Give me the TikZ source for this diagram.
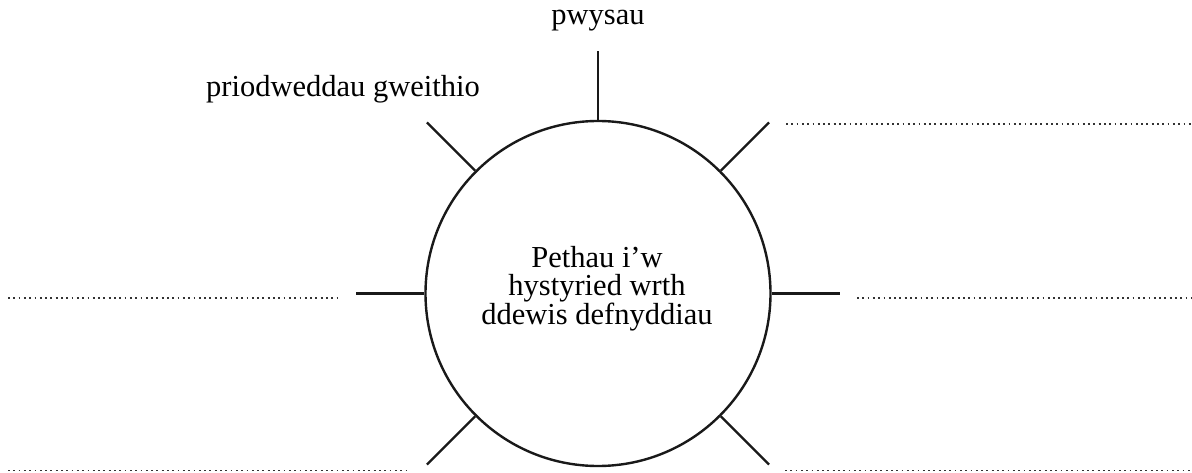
\documentclass[tikz,border=0pt]{standalone}
\usepackage{fontspec}
\setmainfont{Liberation Serif}
\usetikzlibrary{calc}
\begin{document}
\begin{tikzpicture}[x=1pt,y=1pt,
  spoke/.style={line width=2.4pt, draw=black!90},
  blank/.style={line width=1.8pt, draw=black!80, dash pattern=on 1.8pt off 3.5pt},
  lbl/.style={font=\fontsize{30.5}{28}\selectfont, inner sep=0pt}]
\useasboundingbox (0,0) rectangle (1192,472);
\node[circle, draw=black!90, line width=2.4pt, minimum size=345pt, inner sep=0pt] (c) at (598,178.5) {};
\node[lbl, align=center] (ct) at (597,183) {Pethau i’w\\hystyried wrth\\ddewis defnyddiau};
% outer spoke ends
\coordinate (o90) at ($(c.center)+(90:242)$);
\coordinate (o45) at ($(c.center)+(45:242)$);
\coordinate (o135) at ($(c.center)+(135:242)$);
\coordinate (o0) at ($(c.center)+(0:242)$);
\coordinate (o180) at ($(c.center)+(180:242)$);
\coordinate (o315) at ($(c.center)+(315:242)$);
\coordinate (o225) at ($(c.center)+(225:242)$);
\foreach \a in {90,45,135,0,180,315,225}{\draw[spoke] (c.\a) -- (o\a);}
% labels
\node[lbl, anchor=base] (top) at (598,447) {pwysau};
\node[lbl, anchor=base west] (tl) at (206,375) {priodweddau gweithio};
% dotted answer lines
\coordinate (trA) at (786,348); \coordinate (trB) at (1192,348);
\coordinate (mlA) at (8,174);   \coordinate (mlB) at (341,174);
\coordinate (mrA) at (857,174); \coordinate (mrB) at (1192,174);
\coordinate (blA) at (8,1.5);   \coordinate (blB) at (410,1.5);
\coordinate (brA) at (785,1.5); \coordinate (brB) at (1192,1.5);
\draw[blank] (trA) -- (trB);
\draw[blank] (mlA) -- (mlB);
\draw[blank] (mrA) -- (mrB);
\draw[blank] (blA) -- (blB);
\draw[blank] (brA) -- (brB);
\end{tikzpicture}
\end{document}
